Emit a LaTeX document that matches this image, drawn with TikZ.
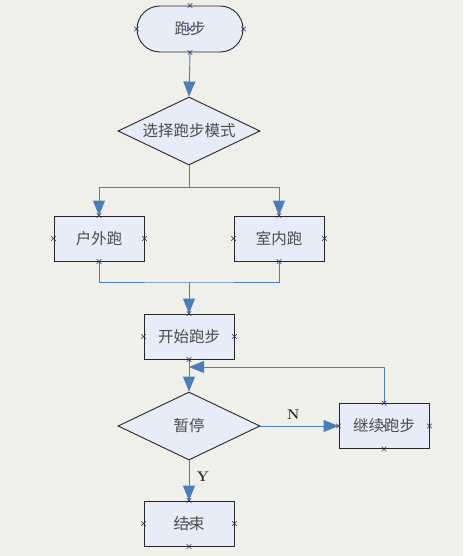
\documentclass[tikz,border=0pt]{standalone}
\usepackage{fontspec}
\newfontfamily\cjk{Noto Sans CJK SC}
\usetikzlibrary{shapes.geometric,shapes.misc,arrows.meta}
\definecolor{bg}{RGB}{240,240,234}
\definecolor{nodefill}{RGB}{230,236,248}
\definecolor{conn}{RGB}{74,126,187}
\definecolor{xmark}{RGB}{40,40,90}
\tikzset{
  boxstyle/.style={draw=black!85, fill=nodefill, line width=0.9pt, minimum width=90pt, minimum height=45pt, inner sep=0pt, font=\cjk\fontsize{15.5}{17}\selectfont, text=black!70},
  termstyle/.style={boxstyle, rounded rectangle, minimum width=106pt, minimum height=46pt},
  decstyle/.style={boxstyle, diamond, aspect=2.09, minimum width=142pt, minimum height=68pt},
  conline/.style={draw=conn, line width=0.9pt},
  arr/.style={conline, -{Triangle[length=15pt,width=12pt,fill=conn]}},
  xm/.style={cross out, draw=xmark, minimum size=4pt, inner sep=0pt, line width=0.55pt},
  lbl/.style={font=\fontsize{14}{16}\selectfont\bfseries, text=black!85}
}
\begin{document}
\begin{tikzpicture}[x=1pt,y=-1pt]
\fill[bg] (0,0) rectangle (463,556);
\useasboundingbox (0,0) rectangle (463,556);

\node[termstyle] (start) at (190,29) {跑步};
\node[decstyle] (sel) at (189,131) {选择跑步模式};
\node[boxstyle] (out) at (99,238.5) {户外跑};
\node[boxstyle] (in) at (279,238.5) {室内跑};
\node[boxstyle] (begin) at (189,336.5) {开始跑步};
\node[decstyle] (pause) at (189,426) {暂停};
\node[boxstyle] (cont) at (384,426) {继续跑步};
\node[boxstyle] (end) at (189,523.5) {结束};

\coordinate (s1) at (189,187);
\coordinate (m1) at (189,282);
\coordinate (lp) at (189,367);

\draw[arr] (start.south) -- (sel.north);
\draw[conline] (sel.south) -- (s1);
\draw[arr] (s1) -| (out.north);
\draw[arr] (s1) -| (in.north);
\draw[conline] (out.south) |- (m1) -| (in.south);
\draw[arr] (m1) -- (begin.north);
\draw[arr] (begin.south) -- (pause.north);
\draw[arr] (pause.east) -- node[lbl, above=3pt, pos=0.42] {N} (cont.west);
\draw[arr] (cont.north) |- (lp);
\draw[arr] (pause.south) -- node[lbl, right=4pt, pos=0.4] {Y} (end.north);

\foreach \n in {start,out,in,begin,cont,end}{
  \foreach \a in {north,south,east,west}{
    \node[xm] at (\n.\a) {};
  }
}
\node[xm] at (start.center) {};
\node[xm] at (cont.center) {};
\node[xm] at (end.center) {};
\end{tikzpicture}
\end{document}
